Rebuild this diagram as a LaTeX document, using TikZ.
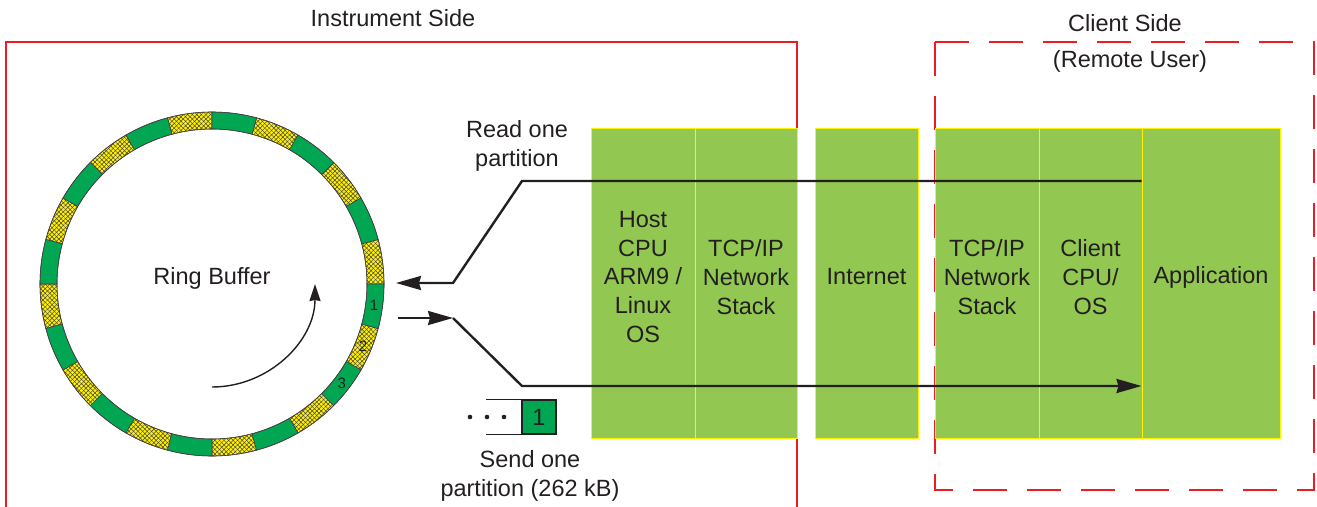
\documentclass[tikz,border=0pt]{standalone}
\usepackage{fontspec}
\setmainfont{Liberation Sans}
\usetikzlibrary{arrows.meta,patterns.meta}
\definecolor{redf}{HTML}{ED1C24}
\definecolor{lgreen}{HTML}{92C751}
\definecolor{rgreen}{HTML}{00A651}
\definecolor{ylw}{HTML}{FFF200}
\definecolor{txt}{HTML}{231F20}
\begin{document}
\begin{tikzpicture}[x=1pt,y=1pt,
  lbl/.style={text=txt, font=\fontsize{23.5}{28.7}\selectfont, align=center, inner sep=0pt},
  layer/.style={draw=ylw, fill=lgreen, line width=1pt, inner sep=0pt, minimum height=310pt},
  flow/.style={draw=txt, line width=2.4pt, line join=miter},
  tip/.style={-{Stealth[length=25pt,width=14pt,inset=2pt]}},
  frame/.style={draw=redf, line width=2pt},
  seg/.style={draw=txt!85, line width=0.6pt},
  small/.style={text=txt, font=\fontsize{15}{17}\selectfont, inner sep=0pt},
]
\useasboundingbox (0,0) rectangle (1317,-506);

% frames
\draw[frame] (5.5,-520) -- (5.5,-42) -- (797,-42) -- (797,-520);
\draw[frame, dash pattern=on 34pt off 20pt] (935,-42) rectangle (1314,-490);
\node[lbl] (tinst) at (393,-18) {Instrument Side};
\node[lbl] (tcli) at (1125,-23) {Client Side};
\node[lbl] (tremote) at (1130,-61) {(Remote User)};

% layer blocks
\node[layer, minimum width=104pt] (host) at (643,-283) {};
\node[layer, minimum width=102pt] (tcp1) at (746,-283) {};
\node[layer, minimum width=103pt] (inet) at (866.5,-283) {};
\node[layer, minimum width=104pt] (tcp2) at (987,-283) {};
\node[layer, minimum width=103pt] (ccpu) at (1090.5,-283) {};
\node[layer, minimum width=138pt] (app) at (1211,-283) {};
\node[lbl] (thost) at ([yshift=6pt]host.center) {Host\\CPU\\ARM9 /\\Linux\\OS};
\node[lbl] (ttcp1) at ([yshift=6pt]tcp1.center) {TCP/IP\\Network\\Stack};
\node[lbl] (tinet) at ([yshift=6pt]inet.center) {Internet};
\node[lbl] (ttcp2) at ([yshift=6pt]tcp2.center) {TCP/IP\\Network\\Stack};
\node[lbl] (tccpu) at ([yshift=6pt]ccpu.center) {Client\\CPU/\\OS};
\node[lbl] (tapp) at ([yshift=6pt]app.center) {Application};

% ring buffer
\begin{scope}[shift={(212,-284)}]
  \foreach \a in {0,30,...,330}{
    \path[fill=ylw,
          postaction={pattern={Lines[angle=45,distance=3.2pt,line width=0.5pt]}, pattern color=txt!85},
          postaction={pattern={Lines[angle=-45,distance=3.2pt,line width=0.5pt]}, pattern color=txt!85},
          postaction={seg}]
      (\a:172) arc[start angle=\a, end angle={\a+15}, radius=172] -- ({\a+15}:155)
      arc[start angle={\a+15}, end angle=\a, radius=155] -- cycle;
  }
  \foreach \a in {15,45,...,345}{
    \path[fill=rgreen, seg]
      (\a:172) arc[start angle=\a, end angle={\a+15}, radius=172] -- ({\a+15}:155)
      arc[start angle={\a+15}, end angle=\a, radius=155] -- cycle;
  }
  \draw[seg] (0,0) circle[radius=172];
  \draw[seg] (0,0) circle[radius=155];
  \node[small] (n1) at (352.5:163.5) {1};
  \node[small] (n2) at (337.5:163.5) {2};
  \node[small] (n3) at (322.5:163.5) {3};
  \draw[txt, line width=1.4pt, -{Stealth[length=17pt,width=11pt,inset=1pt]}]
    (270:103) arc[start angle=270, end angle=360, radius=103];
  \node[lbl] (rb) at (0,6) {Ring Buffer};
\end{scope}

% connectors
\coordinate (rstart) at (app.west |- 0,-181);
\coordinate (rc1) at (522,-181);
\coordinate (rc2) at (453,-283);
\coordinate (rend) at (396,-283);
\draw[flow,tip] (rstart) -- (rc1) -- (rc2) -- (rend);

\coordinate (sstart) at (398,-318);
\coordinate (sc1) at (453,-318);
\coordinate (sc2) at (522,-386);
\coordinate (send) at (app.west |- 0,-386);
\draw[flow,tip] (sstart) -- (sc1);
\draw[flow,tip] (sc1) -- (sc2) -- (send);

\node[lbl] (tread) at (517,-146) {Read one\\partition};
\node[lbl] (tsend) at (530,-476) {Send one\\partition (262 kB)};

% queue
\node[draw=txt, fill=rgreen, line width=1.2pt, minimum size=34pt, inner sep=0pt, text=txt, font=\fontsize{23.5}{28.7}\selectfont] (q1) at (539,-417) {1};
\draw[txt, line width=1pt] (q1.north west) -- ++(-35,0);
\draw[txt, line width=1pt] (q1.south west) -- ++(-35,0);
\foreach \x/\n in {470/d1,487/d2,504/d3}{
  \fill[txt] (\x,-417) circle[radius=2.3] coordinate (\n);
}
\end{tikzpicture}
\end{document}
